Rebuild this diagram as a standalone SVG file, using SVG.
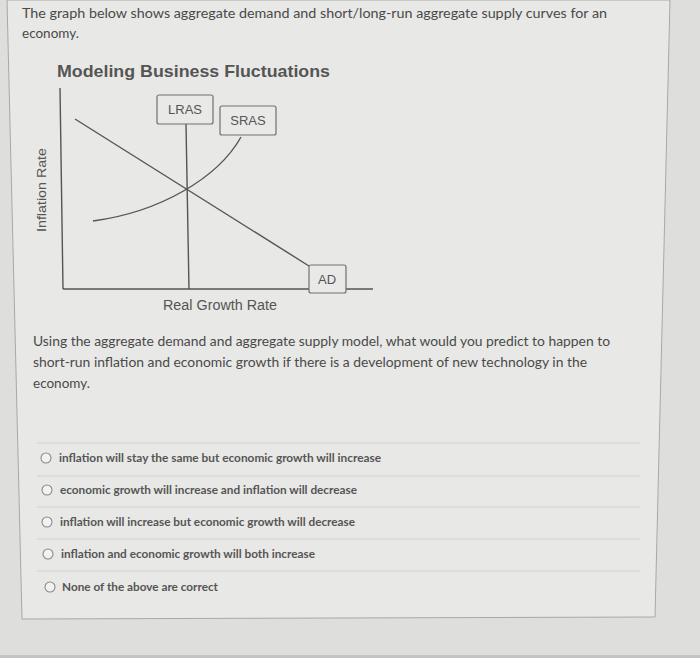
<svg xmlns="http://www.w3.org/2000/svg" width="700" height="658" viewBox="0 0 700 658">
<style>
.txt{font-family:Lato,"Liberation Sans",sans-serif;fill:#4a4a4a}
.q{font-size:13.5px}
.opt{font-size:11px;font-weight:bold;fill:#555}
.g{font-family:"Liberation Sans",Arial,sans-serif;fill:#555}
.ln{stroke:#555;stroke-width:1.4;fill:none}
.box{fill:#e9e9e7;stroke:#707070;stroke-width:1.2}
.sep{stroke:#d2d2d0;stroke-width:1}
.radio{fill:#f2f2f0;stroke:#8a8a8a;stroke-width:1.1}
</style>
<rect x="0" y="0" width="700" height="658" fill="#dededc"/>
<path d="M7,0 L670,0 L655,617 L22,619 Z" fill="#e8e8e6" stroke="#a8a8a6" stroke-width="1"/>
<rect x="0" y="655" width="700" height="3" fill="#c4c4c2"/>

<g id="intro">
<text class="txt q" x="22" y="18" textLength="585" lengthAdjust="spacingAndGlyphs">The graph below shows aggregate demand and short/long-run aggregate supply curves for an</text>
<text class="txt q" x="22" y="38">economy.</text>
</g>

<g id="title">
<text class="g" x="57" y="77" font-size="17" font-weight="bold" fill="#3d3d3d" textLength="273" lengthAdjust="spacingAndGlyphs">Modeling Business Fluctuations</text>
</g>

<g id="axes">
<line class="ln" x1="60" y1="88" x2="63" y2="289"/>
<line class="ln" x1="63" y1="289" x2="373" y2="289"/>
<text class="g" font-size="13" text-anchor="middle" transform="translate(46,190) rotate(-90)" textLength="84" lengthAdjust="spacingAndGlyphs">Inflation Rate</text>
<text class="g" x="220" y="310" font-size="14" text-anchor="middle" textLength="114" lengthAdjust="spacingAndGlyphs">Real Growth Rate</text>
</g>

<g id="connectors">
<line id="lras-line" class="ln" x1="186" y1="124" x2="189" y2="289"/>
<line id="ad-line" class="ln" x1="75" y1="119" x2="309" y2="266"/>
<path id="sras-curve" class="ln" d="M93,221 C160,212 218,178 241,137"/>
</g>

<g id="lras">
<rect class="box" x="157" y="95" width="56" height="29" rx="2"/>
<text class="g" x="185" y="114" font-size="13" text-anchor="middle">LRAS</text>
</g>
<g id="sras">
<rect class="box" x="220" y="106" width="56" height="29" rx="2"/>
<text class="g" x="248" y="125" font-size="13" text-anchor="middle">SRAS</text>
</g>
<g id="ad">
<rect class="box" x="309" y="265" width="37" height="28" rx="2"/>
<text class="g" x="327" y="284" font-size="13" text-anchor="middle">AD</text>
</g>

<g id="question">
<text class="txt q" x="33" y="346" textLength="577" lengthAdjust="spacingAndGlyphs">Using the aggregate demand and aggregate supply model, what would you predict to happen to</text>
<text class="txt q" x="33" y="367" textLength="554" lengthAdjust="spacingAndGlyphs">short-run inflation and economic growth if there is a development of new technology in the</text>
<text class="txt q" x="33" y="388">economy.</text>
</g>

<g id="separators">
<line class="sep" x1="37" y1="443" x2="640" y2="443"/>
<line class="sep" x1="37" y1="476" x2="640" y2="476"/>
<line class="sep" x1="37" y1="507" x2="640" y2="507"/>
<line class="sep" x1="37" y1="539" x2="640" y2="539"/>
<line class="sep" x1="37" y1="571" x2="640" y2="571"/>
</g>

<g id="option1">
<circle class="radio" cx="46" cy="458" r="5"/>
<text class="txt opt" x="59" y="462" textLength="322" lengthAdjust="spacingAndGlyphs">inflation will stay the same but economic growth will increase</text>
</g>
<g id="option2">
<circle class="radio" cx="47" cy="490" r="5"/>
<text class="txt opt" x="60" y="494" textLength="297" lengthAdjust="spacingAndGlyphs">economic growth will increase and inflation will decrease</text>
</g>
<g id="option3">
<circle class="radio" cx="47" cy="522" r="5"/>
<text class="txt opt" x="60" y="526" textLength="295" lengthAdjust="spacingAndGlyphs">inflation will increase but economic growth will decrease</text>
</g>
<g id="option4">
<circle class="radio" cx="48" cy="554" r="5"/>
<text class="txt opt" x="61" y="558" textLength="254" lengthAdjust="spacingAndGlyphs">inflation and economic growth will both increase</text>
</g>
<g id="option5">
<circle class="radio" cx="50" cy="587" r="5"/>
<text class="txt opt" x="62" y="591" textLength="156" lengthAdjust="spacingAndGlyphs">None of the above are correct</text>
</g>
</svg>
